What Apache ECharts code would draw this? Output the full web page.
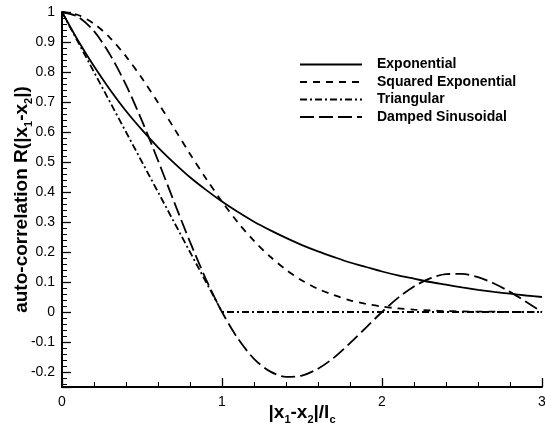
<!DOCTYPE html>
<html>
<head>
<meta charset="utf-8">
<script src="https://cdn.jsdelivr.net/npm/echarts@6/dist/echarts.min.js"></script>
<style>html,body{margin:0;padding:0;background:#fff}#c{width:545px;height:428px}</style>
</head>
<body>
<div id="c"></div>
<script>
// x positions (|x1-x2|/lc) where the curves were read
var xs = [0,0.1,0.2,0.3,0.4,0.5,0.6,0.7,0.8,0.9,1.0,1.1,1.2,1.3,1.4,1.5,1.6,1.7,1.8,1.9,2.0,2.1,2.2,2.3,2.4,2.5,2.6,2.7,2.8,2.9,3.0];
var exponential = [1,0.905,0.819,0.741,0.670,0.607,0.549,0.497,0.449,0.407,0.368,0.333,0.301,0.273,0.247,0.223,0.202,0.183,0.165,0.150,0.135,0.122,0.111,0.100,0.091,0.082,0.074,0.067,0.061,0.055,0.050];
var squaredExp = [1,0.990,0.961,0.914,0.852,0.779,0.698,0.613,0.527,0.445,0.368,0.298,0.237,0.185,0.141,0.105,0.077,0.056,0.039,0.027,0.018,0.012,0.008,0.005,0.003,0.002,0.001,0.001,0.000,0.000,0.000];
var triangularX = [0,1,3];
var triangular = [1,0,0];
var dampedSin = [1,0.984,0.936,0.858,0.757,0.637,0.505,0.368,0.234,0.109,0,-0.089,-0.156,-0.198,-0.216,-0.212,-0.189,-0.152,-0.104,-0.052,0,0.047,0.085,0.112,0.126,0.127,0.116,0.095,0.067,0.034,0];
var seriesNames = ['Exponential','Squared Exponential','Triangular','Damped Sinusoidal'];

function pairs(x, y){ return x.map(function(v,i){ return [v, y[i]]; }); }

var FONT = 'Arial, "Liberation Sans", sans-serif';
var chart = echarts.init(document.getElementById('c'), null, {renderer:'canvas'});
var sub = {fontSize: 11, fontWeight: 'bold', fontFamily: FONT, color: '#000', verticalAlign: 'bottom', lineHeight: 24};
function line(name, data, dash, smooth){
  return {
    name: name, type: 'line', data: data, symbol: 'none', smooth: smooth,
    animation: false, clip: true,
    itemStyle: {color: '#000'},
    lineStyle: {color: '#000', width: 1.8, type: dash}
  };
}
chart.setOption({
  animation: false,
  backgroundColor: '#fff',
  grid: {left: 62, right: 3, top: 12, bottom: 41, outerBoundsMode: 'none', containLabel: false},
  legend: {
    orient: 'vertical', left: 299, top: 57.5, padding: 0, itemWidth: 62, itemHeight: 14, itemGap: 3.5,
    itemStyle: {opacity: 0},
    textStyle: {fontFamily: FONT, fontSize: 14, fontWeight: 'bold', color: '#000', padding: [0,0,0,10]},
    data: seriesNames
  },
  xAxis: {
    type: 'value', min: 0, max: 3, interval: 1,
    name: '|x{s|1}-x{s|2}|/l{s|c}', nameLocation: 'middle', nameGap: 14, nameMoveOverlap: false,
    nameTextStyle: {fontFamily: FONT, fontSize: 19, fontWeight: 'bold', color: '#000', rich: {s: sub}},
    axisLine: {onZero: false, lineStyle: {color: '#000', width: 2}},
    axisTick: {inside: true, length: 9, lineStyle: {color: '#000', width: 1.3}},
    minorTick: {show: true, splitNumber: 5, length: 5, lineStyle: {color: '#000', width: 1}},
    axisLabel: {fontFamily: FONT, fontSize: 14, color: '#000', margin: 8},
    splitLine: {show: false}
  },
  yAxis: {
    type: 'value', min: -0.25, max: 1, splitNumber: 12,
    name: 'auto-correlation R(|x{s|1}-x{s|2}|)', nameLocation: 'middle', nameGap: 28, nameRotate: 90, nameMoveOverlap: false,
    nameTextStyle: {fontFamily: FONT, fontSize: 19, fontWeight: 'bold', color: '#000', rich: {s: sub}},
    axisLine: {onZero: false, lineStyle: {color: '#000', width: 2}},
    axisTick: {inside: true, length: 9, lineStyle: {color: '#000', width: 1.3}},
    minorTick: {show: true, splitNumber: 5, length: 5, lineStyle: {color: '#000', width: 1}},
    axisLabel: {fontFamily: FONT, fontSize: 14, color: '#000', margin: 7, showMinLabel: false},
    splitLine: {show: false}
  },
  series: [
    line(seriesNames[0], pairs(xs, exponential), 'solid', 0.3),
    line(seriesNames[1], pairs(xs, squaredExp), [7,6], 0.3),
    line(seriesNames[2], pairs(triangularX, triangular), [7,3,2,3], false),
    line(seriesNames[3], pairs(xs, dampedSin), [14,5], 0.3)
  ]
});
</script>
</body>
</html>
